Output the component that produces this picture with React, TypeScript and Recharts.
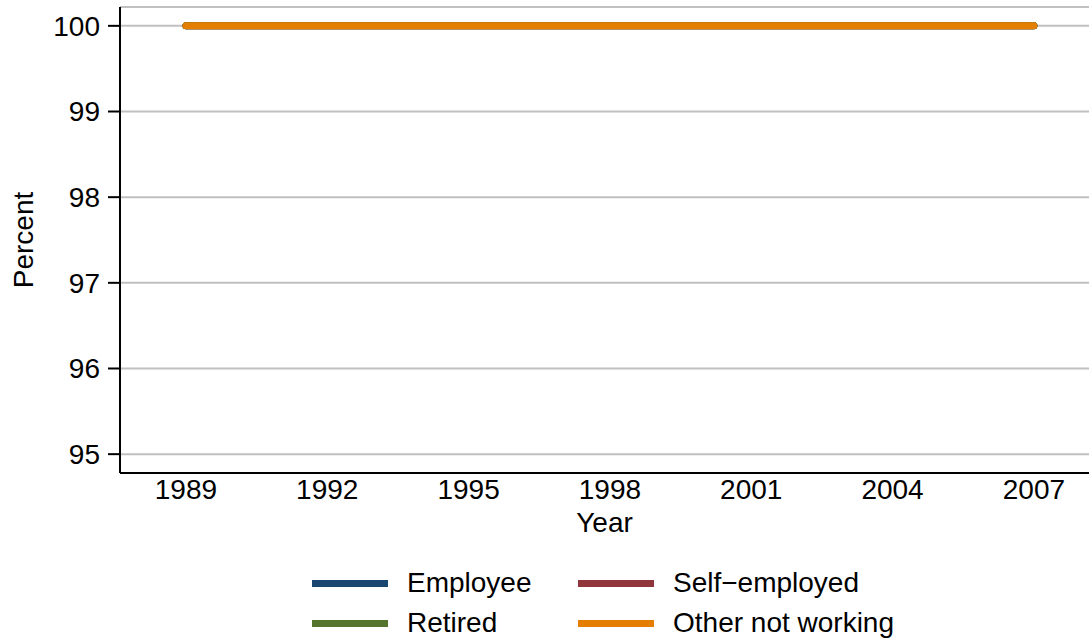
import React from 'react';
import { LineChart, Line, XAxis, YAxis, CartesianGrid, Legend, Label } from 'recharts';

const years = [1989, 1992, 1995, 1998, 2001, 2004, 2007];
const employee = [100, 100, 100, 100, 100, 100, 100];
const selfEmployed = [100, 100, 100, 100, 100, 100, 100];
const retired = [100, 100, 100, 100, 100, 100, 100];
const otherNotWorking = [100, 100, 100, 100, 100, 100, 100];
const yTicks = [95, 96, 97, 98, 99, 100];

const seriesNames = ['Employee', 'Self\u2212employed', 'Retired', 'Other not working'];
const seriesKeys = ['employee', 'selfEmployed', 'retired', 'other'];
const seriesColors = ['#1a476f', '#90353b', '#55752f', '#e37e00'];

const data = years.map((y, i) => ({
  year: y,
  employee: employee[i],
  selfEmployed: selfEmployed[i],
  retired: retired[i],
  other: otherNotWorking[i],
}));

const FONT = '"Liberation Sans", Arial, Helvetica, sans-serif';

const LegendContent = () => (
  <div
    style={{
      height: 100,
      boxSizing: 'border-box',
      paddingTop: 20,
      paddingLeft: 312,
      display: 'grid',
      gridTemplateColumns: '266px auto',
      gridAutoRows: '40px',
      fontFamily: FONT,
      fontSize: 28,
      color: '#000',
    }}
  >
    {seriesNames.map((n, i) => (
      <div key={n} style={{ display: 'flex', alignItems: 'center', height: 40 }}>
        <span
          style={{
            display: 'inline-block',
            width: 76,
            height: 7,
            background: seriesColors[i],
            marginRight: 19,
          }}
        />
        <span style={{ whiteSpace: 'nowrap' }}>{n}</span>
      </div>
    ))}
  </div>
);

const PercentLabel = (props: any) => {
  const vb = props.viewBox || { x: 0, y: 0, width: 0, height: 0 };
  const x = vb.x + 33;
  const y = vb.y + vb.height / 2;
  return (
    <text
      x={x}
      y={y}
      transform={`rotate(-90, ${x}, ${y})`}
      textAnchor="middle"
      fontFamily={FONT}
      fontSize={28}
      fill="#000"
    >
      Percent
    </text>
  );
};

export default function App() {
  return (
    <div style={{ position: 'absolute', left: 0, top: 0, background: '#fff' }}>
      <LineChart
        width={1089}
        height={643}
        data={data}
        margin={{ top: 7, right: 0, bottom: 0, left: 0 }}
      >
        <CartesianGrid vertical={false} stroke="#c0c0c0" strokeWidth={2} />
        <XAxis
          dataKey="year"
          type="number"
          domain={[1987.6, 2008.17]}
          ticks={years}
          allowDataOverflow
          height={70}
          tickLine={false}
          tickSize={0}
          tickMargin={6}
          axisLine={{ stroke: '#000', strokeWidth: 2 }}
          tick={{ fill: '#000', fontSize: 28, fontFamily: FONT }}
        >
          <Label
            value="Year"
            position="insideBottom"
            offset={11}
            style={{ fill: '#000', fontSize: 28, fontFamily: FONT }}
          />
        </XAxis>
        <YAxis
          type="number"
          domain={[94.78, 100.22]}
          ticks={yTicks}
          allowDataOverflow
          width={120}
          tickSize={12}
          tickMargin={8}
          axisLine={{ stroke: '#000', strokeWidth: 2 }}
          tickLine={{ stroke: '#000', strokeWidth: 2 }}
          tick={{ fill: '#000', fontSize: 28, fontFamily: FONT }}
        >
          <Label content={<PercentLabel />} />
        </YAxis>
        <Legend verticalAlign="bottom" content={<LegendContent />} />
        {seriesKeys.map((k, i) => (
          <Line
            key={k}
            dataKey={k}
            name={seriesNames[i]}
            stroke={seriesColors[i]}
            strokeWidth={7}
            strokeLinecap="round"
            dot={false}
            activeDot={false}
            isAnimationActive={false}
          />
        ))}
      </LineChart>
    </div>
  );
}
